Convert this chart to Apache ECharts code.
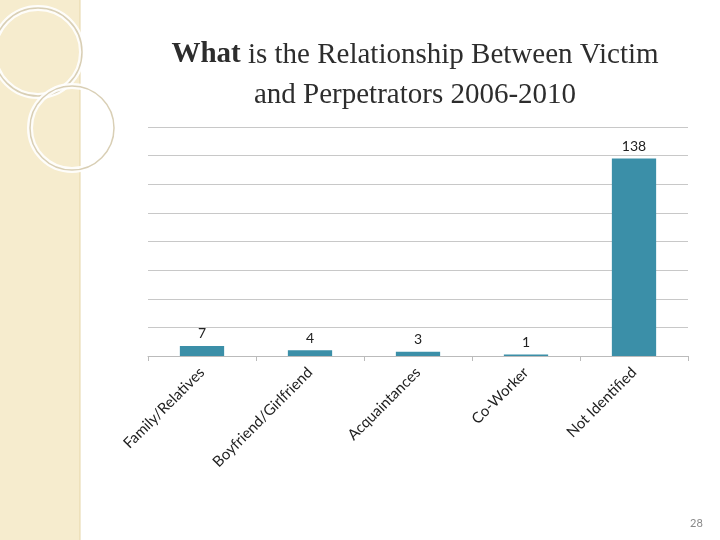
<!DOCTYPE html>
<html>
<head>
<meta charset="utf-8">
<script src="https://cdn.jsdelivr.net/npm/echarts@6/dist/echarts.min.js"></script>
<style>html,body{margin:0;padding:0;background:#fff}#chart{width:720px;height:540px}</style>
</head>
<body>
<div id="chart"></div>
<script>
// 数据
var categories = ['Family/Relatives', 'Boyfriend/Girlfriend', 'Acquaintances', 'Co-Worker', 'Not Identified']
var values = [7, 4, 3, 1, 138]

var myChart = echarts.init(document.getElementById('chart'))

var option = {
	backgroundColor: '#fff',
	animation: false,
	title: {
		text: '{b|What} is the Relationship Between Victim\nand Perpetrators 2006-2010',
		left: 410,
		top: 30,
		textAlign: 'center',
		textStyle: {
			fontFamily: 'Liberation Serif',
			fontSize: 29,
			fontWeight: 'normal',
			color: '#2d2d2d',
			lineHeight: 40,
			rich: {
				b: { fontFamily: 'Liberation Serif', fontSize: 29, fontWeight: 'bold', color: '#2d2d2d' }
			}
		}
	},
	grid: { left: 148, right: 32, top: 127, bottom: 184 },
	xAxis: {
		type: 'category',
		data: categories,
		axisLine: { lineStyle: { color: '#bbb' } },
		axisTick: { show: true, lineStyle: { color: '#bbb' } },
		axisLabel: {
			rotate: 45,
			interval: 0,
			margin: 14,
			fontFamily: 'Lato',
			fontSize: 15,
			color: '#222'
		}
	},
	yAxis: {
		type: 'value',
		min: 0,
		max: 160,
		interval: 20,
		axisLabel: { show: false },
		axisLine: { show: false },
		axisTick: { show: false },
		splitLine: { lineStyle: { color: '#c8c8c8' } }
	},
	series: [{
		type: 'bar',
		data: values,
		barWidth: '41%',
		itemStyle: { color: '#3b8fa8' },
		label: {
			show: true,
			position: 'top',
			fontFamily: 'Lato',
			fontSize: 14,
			color: '#222'
		}
	}],
	graphic: [
		{ type: 'rect', shape: { x: 0, y: 0, width: 80, height: 540 }, style: { fill: '#f6ecce' } },
		{ type: 'line', shape: { x1: 80, y1: 0, x2: 80, y2: 540 }, style: { stroke: '#e6d6a8', lineWidth: 1 } },
		{ type: 'circle', shape: { cx: 38, cy: 52, r: 44 }, style: { fill: 'none', stroke: '#ffffff', lineWidth: 6, opacity: 0.9 } },
		{ type: 'circle', shape: { cx: 38, cy: 52, r: 44 }, style: { fill: 'none', stroke: '#d9cfb5', lineWidth: 1.5 } },
		{ type: 'circle', shape: { cx: 72, cy: 128, r: 42 }, style: { fill: 'none', stroke: '#ffffff', lineWidth: 6, opacity: 0.9 } },
		{ type: 'circle', shape: { cx: 72, cy: 128, r: 42 }, style: { fill: 'none', stroke: '#d9cfb5', lineWidth: 1.5 } },
		{ type: 'text', left: 690, top: 518, style: { text: '28', fill: '#888', fontSize: 11, fontFamily: 'Lato' } }
	]
}

myChart.setOption(option)
</script>
</body>
</html>
